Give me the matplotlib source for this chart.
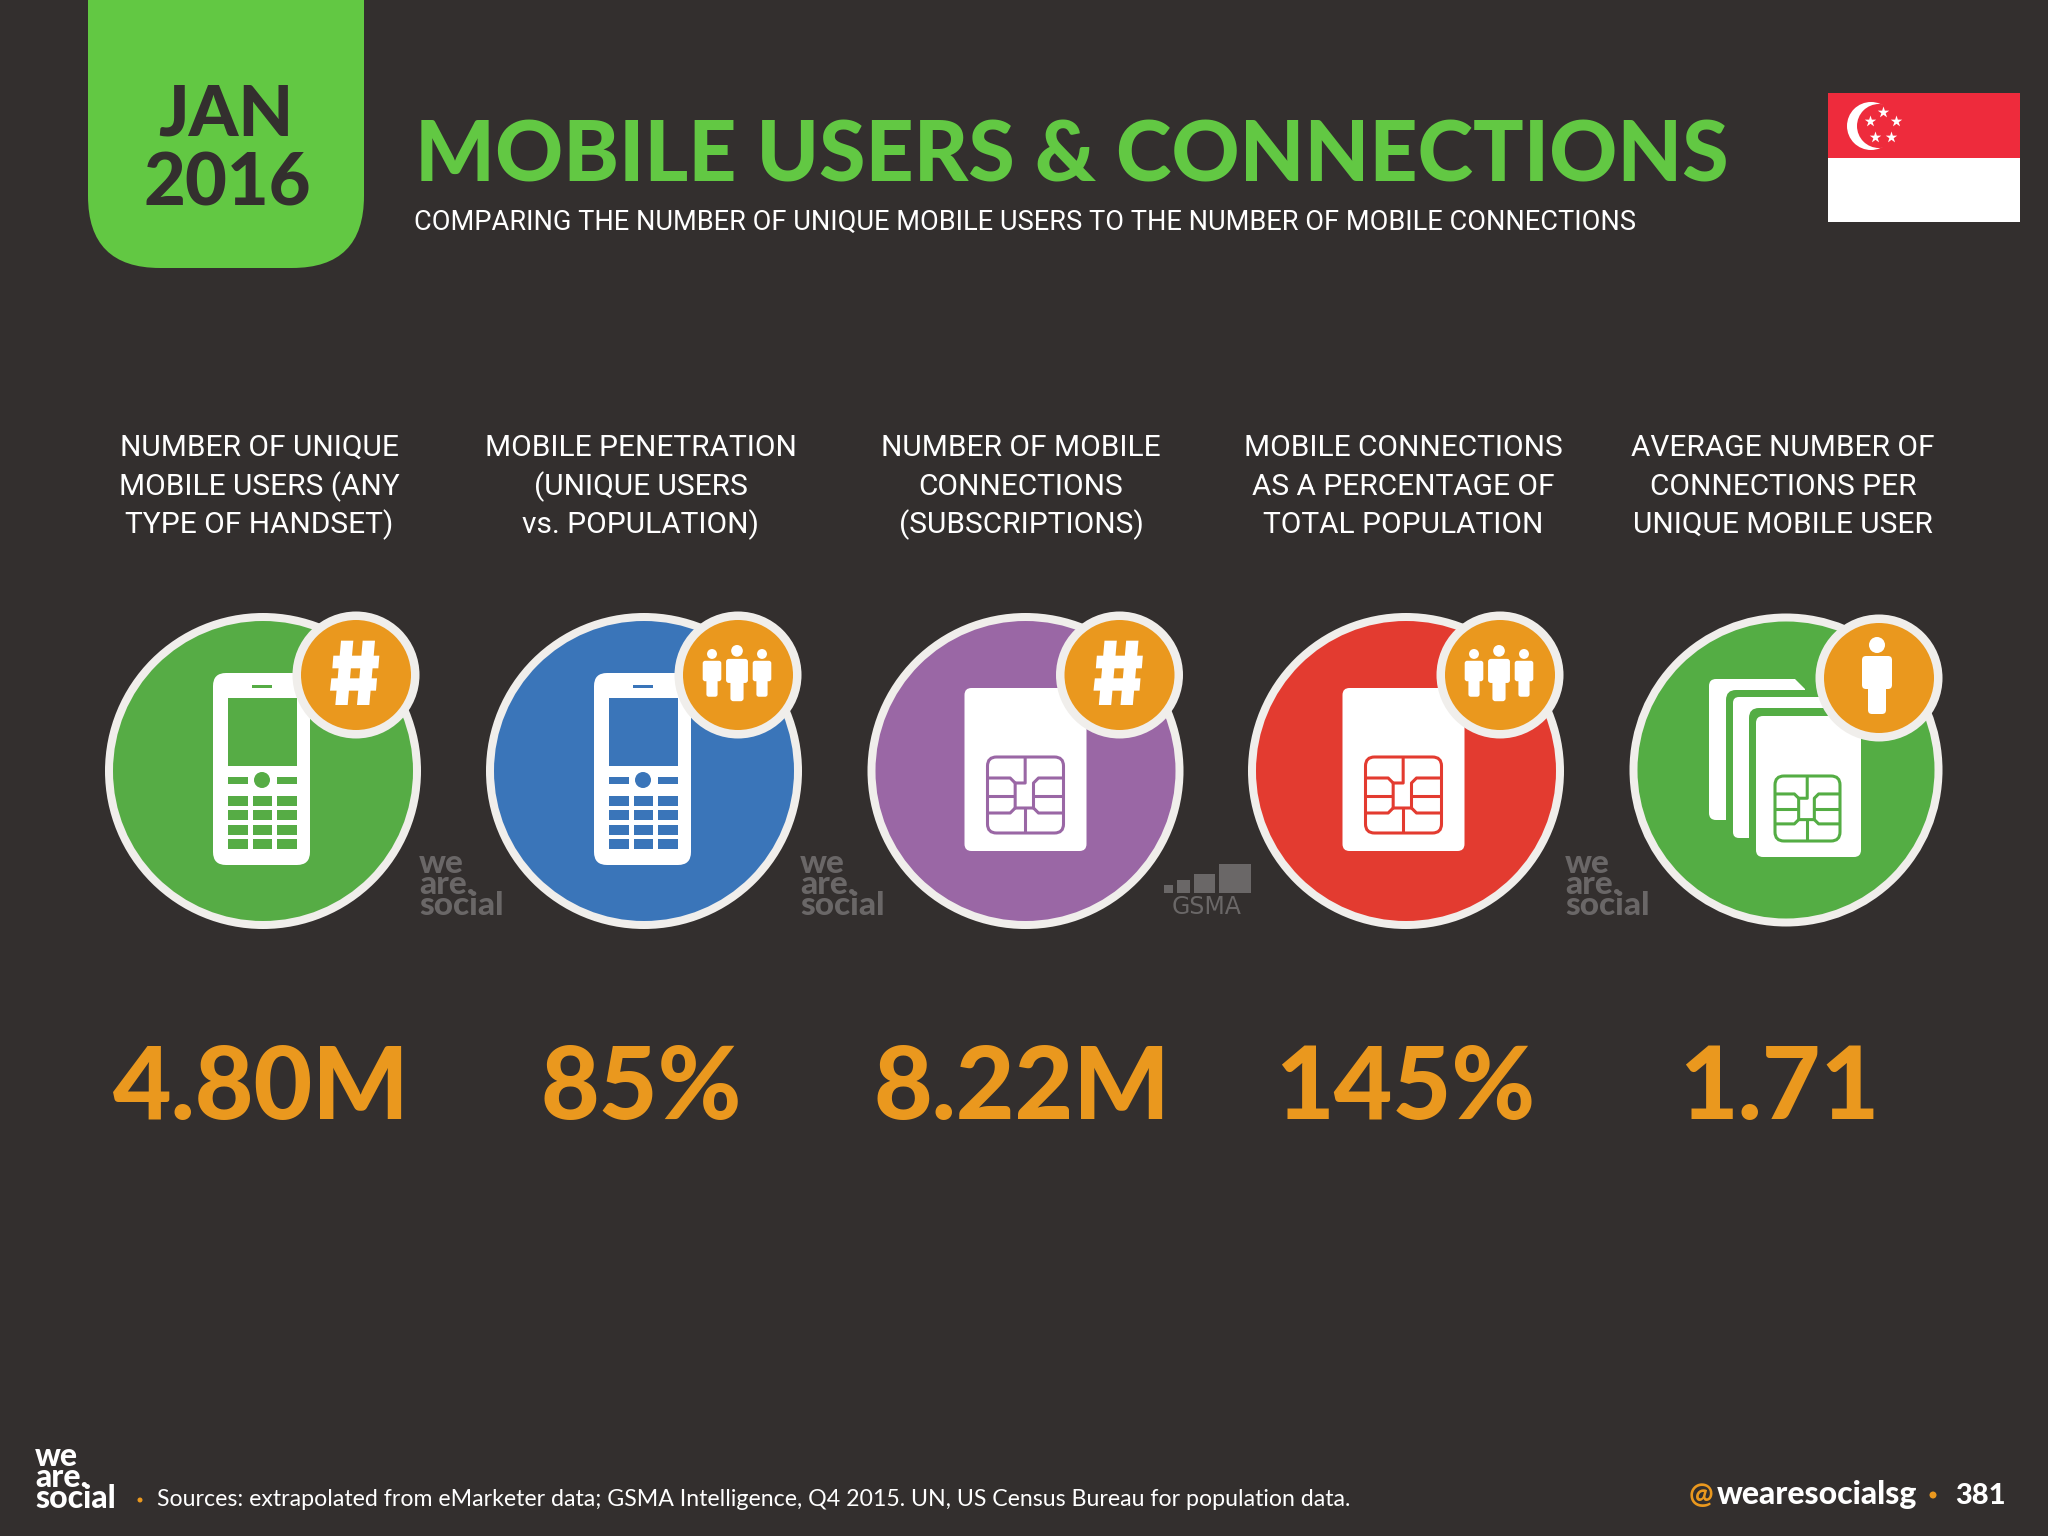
import matplotlib
matplotlib.use("Agg")
import matplotlib.pyplot as plt
from matplotlib.patches import Circle, FancyBboxPatch, Polygon, Rectangle

# --- data ---
headers = [
    ["NUMBER OF UNIQUE", "MOBILE USERS (ANY", "TYPE OF HANDSET)"],
    ["MOBILE PENETRATION", "(UNIQUE USERS", "vs. POPULATION)"],
    ["NUMBER OF MOBILE", "CONNECTIONS", "(SUBSCRIPTIONS)"],
    ["MOBILE CONNECTIONS", "AS A PERCENTAGE OF", "TOTAL POPULATION"],
    ["AVERAGE NUMBER OF", "CONNECTIONS PER", "UNIQUE MOBILE USER"],
]
values = ["4.80M", "85%", "8.22M", "145%", "1.71"]
title = "MOBILE USERS & CONNECTIONS"
subtitle = "COMPARING THE NUMBER OF UNIQUE MOBILE USERS TO THE NUMBER OF MOBILE CONNECTIONS"
source = "Sources: extrapolated from eMarketer data; GSMA Intelligence, Q4 2015. UN, US Census Bureau for population data."

# --- colours ---
BG = "#332F2E"
TAB = "#62C843"
ORANGE = "#EA981E"
RING = "#F0EEEB"
MARK = "#6A6767"
circle_colors = ["#56AC45", "#3A75B9", "#9A67A5", "#E33B30", "#54AD44"]

FONT = "Lato"
LIGHT = "Roboto"

fig = plt.figure(figsize=(20.48, 15.36), dpi=100, facecolor=BG)
ax = fig.add_axes([0, 0, 1, 1])
ax.set_xlim(0, 2048)
ax.set_ylim(1536, 0)
ax.axis("off")


def rbox(x0, y0, x1, y1, r, color, z=3):
    ax.add_patch(FancyBboxPatch((x0 + r, y0 + r), x1 - x0 - 2 * r, y1 - y0 - 2 * r,
                                boxstyle=f"round,pad={r},rounding_size={r}",
                                fc=color, ec="none", zorder=z))


def rect(x0, y0, x1, y1, color, z=4):
    ax.add_patch(Rectangle((x0, y0), x1 - x0, y1 - y0, fc=color, ec="none", zorder=z))


def txt(x, y, s, size, color="white", ha="left", weight="normal", family=FONT, z=8):
    return ax.text(x, y, s, fontsize=size, color=color, ha=ha, va="baseline",
                   fontweight=weight, family=family, zorder=z)


def phone(cx, cy, color):
    rbox(cx - 50, cy - 98, cx + 47, cy + 94, 13, "white")
    rect(cx - 35, cy - 73, cx + 34, cy - 5, color)
    rect(cx - 11, cy - 86, cx + 9, cy - 83, color)
    rect(cx - 35, cy + 6, cx - 15, cy + 13, color)
    rect(cx + 14, cy + 6, cx + 34, cy + 13, color)
    ax.add_patch(Circle((cx - 1, cy + 9), 8, fc=color, ec="none", zorder=4))
    for top in [25, 39, 54, 68]:
        for left, right in [(-35, -15), (-10, 9), (14, 34)]:
            rect(cx + left, cy + top, cx + right, cy + top + 10, color)


def chip(x0, y0, size, color):
    # drawn in a 0-228 grid taken from the zoomed chip
    k = size / 228
    lines = [
        [(113, 0), (113, 78), (83, 78), (83, 153), (138, 153), (138, 78), (153, 63), (228, 63)],
        [(0, 63), (68, 63), (83, 78)],
        [(0, 168), (68, 168), (83, 153)],
        [(228, 168), (153, 168), (138, 153)],
        [(0, 116), (83, 116)],
        [(138, 116), (228, 116)],
        [(113, 153), (113, 228)],
    ]
    ax.add_patch(FancyBboxPatch((x0 + 9, y0 + 9), size - 18, size - 18,
                                boxstyle="round,pad=9,rounding_size=9",
                                fc="none", ec=color, lw=2.2, zorder=5))
    for line in lines:
        ax.plot([x0 + p[0] * k for p in line], [y0 + p[1] * k for p in line],
                color=color, lw=2.2, zorder=5, solid_capstyle="butt")


def sim(cx, cy, color):
    rbox(cx - 61, cy - 83, cx + 61, cy + 80, 7, "white")
    chip(cx - 38, cy - 14, 76, color)


def sim_stack(cx, cy, color):
    rbox(cx - 77, cy - 91, cx + 5, cy + 50, 7, "white")
    ax.add_patch(Polygon([(cx - 20, cy - 91), (cx + 9, cy - 91), (cx + 19, cy - 81),
                          (cx + 19, cy), (cx - 20, cy)], fc="white", ec="none", zorder=3))
    rbox(cx - 60, cy - 80, cx + 64, cy + 90, 10, color)
    rbox(cx - 53, cy - 73, cx + 49, cy + 68, 6, "white")
    rbox(cx - 37, cy - 62, cx + 84, cy + 100, 10, color)
    rbox(cx - 30, cy - 54, cx + 75, cy + 87, 7, "white")
    chip(cx - 11, cy + 6, 65, color)


def person(cx, top, s):
    ax.add_patch(Circle((cx, top + 8 * s), 8 * s, fc="white", ec="none", zorder=7))
    rbox(cx - 15 * s, top + 19 * s, cx + 15 * s, top + 52 * s, 4 * s, "white", z=7)
    rbox(cx - 9 * s, top + 40 * s, cx + 9 * s, top + 77 * s, 4 * s, "white", z=7)


def hash_icon(cx, cy):
    def p(x, y):
        return (cx + (x - 830) / 3, cy + (y - 255) / 3)
    shapes = [
        [(785, 152), (822, 152), (805, 345), (768, 345)],
        [(850, 152), (887, 152), (870, 345), (833, 345)],
        [(762, 197), (900, 197), (897, 235), (759, 235)],
        [(756, 265), (893, 265), (890, 302), (752, 302)],
    ]
    for s in shapes:
        ax.add_patch(Polygon([p(*q) for q in s], fc="white", ec="none", zorder=7))


def badge(cx, cy, kind):
    ax.add_patch(Circle((cx, cy), 63.5, fc=RING, ec="none", zorder=6))
    ax.add_patch(Circle((cx, cy), 55, fc=ORANGE, ec="none", zorder=6))
    if kind == "hash":
        hash_icon(cx, cy)
    elif kind == "people":
        person(cx - 26, cy - 26, 0.62)
        person(cx + 24, cy - 26, 0.62)
        person(cx - 1, cy - 30, 0.73)
    else:
        person(cx - 2, cy - 41, 1.0)


def we_are_social(x, y, color, size):
    ax.text(x, y, "we\nare.\nsocial", fontsize=size, color=color, ha="left", va="baseline",
            fontweight="black", family=FONT, linespacing=0.66, zorder=8)


# header tab + titles
rbox(88, -120, 364, 268, 72, TAB, z=2)
txt(226, 136, "JAN", 51, BG, ha="center", weight="black")
txt(227, 205, "2016", 52, BG, ha="center", weight="black")
txt(415, 181, title, 60.5, TAB, weight="black")
txt(414, 230, subtitle, 19.6, family=LIGHT)

# flag
rect(1828, 93, 2020, 158, "#EE2B3C", z=2)
rect(1828, 158, 2020, 222, "white", z=2)
ax.add_patch(Circle((1871, 126), 24, fc="white", ec="none", zorder=3))
ax.add_patch(Circle((1879, 126), 22, fc="#EE2B3C", ec="none", zorder=3))
star_x = [1883, 1896, 1891, 1875, 1870]
star_y = [112, 121, 137, 137, 121]
ax.scatter(star_x, star_y, marker="*", s=75, c="white", linewidths=0, zorder=4)

# five stat columns
circle_x = [263, 644, 1025.5, 1406, 1786]
circle_y = [771, 771, 771, 771, 770]
circle_r = [158, 158, 158, 158, 156.5]
icon_x = [263, 644, 1025.5, 1403.5, 1786]
badge_x = [356, 738, 1119.5, 1500, 1879]
badge_y = [675, 675, 675, 675, 678]
badge_kinds = ["hash", "people", "hash", "people", "person"]
header_x = [259, 641, 1021, 1403, 1783]
value_x = [261, 641, 1022, 1405, 1779]
header_base = [456, 495, 533]

for i in range(5):
    for line, base in zip(headers[i], header_base):
        txt(header_x[i], base, line, 21.5, ha="center", family=LIGHT)
    ax.add_patch(Circle((circle_x[i], circle_y[i]), circle_r[i], fc=RING, ec="none", zorder=1))
    ax.add_patch(Circle((circle_x[i], circle_y[i]), circle_r[i] - 8, fc=circle_colors[i], ec="none", zorder=2))
    if i < 2:
        phone(icon_x[i], circle_y[i], circle_colors[i])
    elif i < 4:
        sim(icon_x[i], circle_y[i], circle_colors[i])
    else:
        sim_stack(icon_x[i], circle_y[i], circle_colors[i])
    badge(badge_x[i], badge_y[i], badge_kinds[i])
    txt(value_x[i], 1119, values[i], 73, ORANGE, ha="center", weight="black")

# watermarks
for x in [419, 800, 1565]:
    we_are_social(x, 915, MARK, 24)

# gsma mark
for x0, x1, top in [(1164, 1173, 885), (1177, 1190, 880), (1194, 1215, 874), (1219, 1251, 864)]:
    rect(x0, top, x1, 893, MARK, z=3)
txt(1207, 914, "GSMA", 17, MARK, ha="center", family="DejaVu Sans")

# footer
we_are_social(35, 1508, "white", 23)
ax.add_patch(Circle((140, 1500), 2.5, fc=ORANGE, ec="none", zorder=4))
txt(157, 1506, source, 16.7)
txt(1689, 1504, "@", 21, ORANGE, weight="bold")
txt(1717, 1504, "wearesocialsg", 23, weight="black")
ax.add_patch(Circle((1933, 1495), 3.5, fc=ORANGE, ec="none", zorder=4))
txt(1955, 1504, "381", 21, weight="black")

fig.savefig("out.png", dpi=100, facecolor=BG)
